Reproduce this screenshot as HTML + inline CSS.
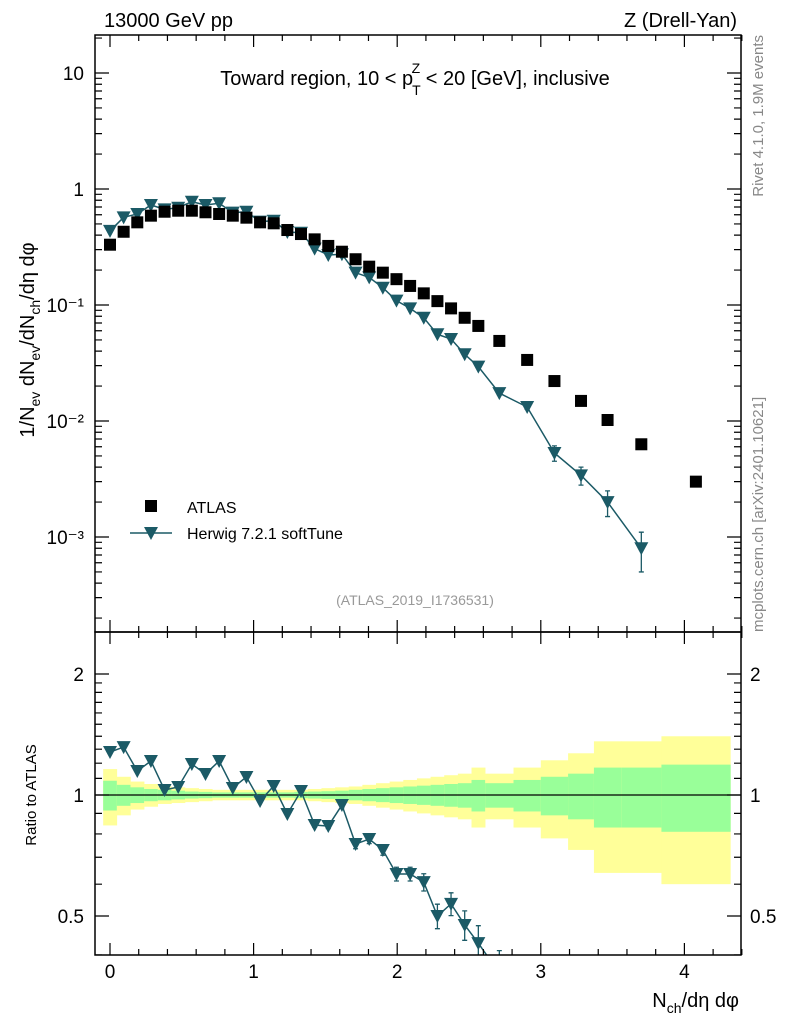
<!DOCTYPE html>
<html><head><meta charset="utf-8"><style>
body{margin:0;background:#fff;}
svg{display:block;font-family:"Liberation Sans",sans-serif;}
</style></head><body>
<svg id="c" width="786" height="1024" viewBox="0 0 786 1024" xmlns="http://www.w3.org/2000/svg">
<text x="104" y="27" font-size="20">13000 GeV pp</text>
<text x="737" y="27" font-size="20" text-anchor="end">Z (Drell-Yan)</text>
<text x="415" y="85" font-size="20" text-anchor="middle">Toward region, 10 &lt; p<tspan font-size="14" dy="10" dx="-1">T</tspan><tspan font-size="14" dy="-22" dx="-9">Z</tspan><tspan dy="12"> &lt; 20 [GeV], inclusive</tspan></text>
<text transform="translate(763,35) rotate(-90)" font-size="15" fill="#888" text-anchor="end">Rivet 4.1.0, 1.9M events</text>
<text transform="translate(763,632) rotate(-90)" font-size="15" fill="#888">mcplots.cern.ch [arXiv:2401.10621]</text>
<text x="415" y="605" font-size="14" fill="#999" text-anchor="middle">(ATLAS_2019_I1736531)</text>
<text transform="translate(34,340) rotate(-90)" font-size="20" text-anchor="middle">1/N<tspan font-size="14" dy="6">ev</tspan><tspan dy="-6"> dN</tspan><tspan font-size="14" dy="6">ev</tspan><tspan dy="-6">/dN</tspan><tspan font-size="14" dy="6">ch</tspan><tspan dy="-6">/dη dφ</tspan></text>
<text transform="translate(36,795) rotate(-90)" font-size="15" text-anchor="middle">Ratio to ATLAS</text>
<text x="739" y="1007" font-size="20" text-anchor="end">N<tspan font-size="14" dy="6">ch</tspan><tspan dy="-6">/dη dφ</tspan></text>
<g id="ratioBands"></g><g id="marks"></g><g id="axes"></g>
<g>
<rect x="145" y="500" width="12" height="12" fill="#000"/>
<text x="187" y="513" font-size="16">ATLAS</text>
<line x1="130" y1="533" x2="172" y2="533" stroke="#1b5a66" stroke-width="1.5"/>
<path d="M144,527 L158,527 L151,540 Z" fill="#1b5a66"/>
<text x="187" y="539" font-size="16">Herwig 7.2.1 softTune</text>
</g>
</svg>
<script>
const binEdges=[-0.0475,0.0475,0.1425,0.2375,0.3325,0.4275,0.5225,0.6175,0.7125,0.8075,0.9025,0.9975,1.0925,1.1875,1.2825,1.3775,1.4725,1.5675,1.6625,1.7575,1.8525,1.9475,2.0425,2.1375,2.2325,2.3275,2.4225,2.5175,2.6125,2.81,3.0,3.19,3.37,3.56,3.84,4.32];
const atlasVals=[0.331,0.428,0.516,0.589,0.637,0.650,0.650,0.630,0.609,0.589,0.566,0.516,0.506,0.443,0.409,0.368,0.323,0.288,0.248,0.214,0.190,0.167,0.146,0.126,0.108,0.0935,0.0776,0.066,0.049,0.0336,0.0221,0.0149,0.0102,0.0063,0.0030];
const herwigVals=[0.435,0.570,0.609,0.728,0.668,0.690,0.777,0.728,0.753,0.625,0.637,0.523,0.533,0.426,0.420,0.306,0.270,0.274,0.190,0.173,0.141,0.109,0.0935,0.0776,0.0559,0.0509,0.0376,0.0294,0.0174,0.0132,0.0053,0.0034,0.0020,0.00080];
const herwigErr=[0,0,0,0,0,0,0,0,0,0,0,0,0,0,0,0,0,0,0,0,0,0,0,0,0,0,0,0,0.0006,0.0006,0.0008,0.0006,0.0005,0.0003];
const ratioVals=[1.279,1.316,1.147,1.215,1.029,1.047,1.194,1.128,1.215,1.041,1.109,0.966,1.053,0.897,1.023,0.842,0.837,0.944,0.755,0.777,0.730,0.636,0.636,0.607,0.50,0.536,0.475,0.428,0.36];
const ratioErr=[0,0,0,0,0,0,0,0,0,0,0,0,0,0,0,0.01,0.012,0.015,0.02,0.02,0.022,0.025,0.025,0.03,0.035,0.035,0.04,0.045,0.05];
const yellowErr=[0.16,0.11,0.08,0.065,0.05,0.045,0.04,0.035,0.03,0.03,0.03,0.03,0.03,0.03,0.03,0.035,0.04,0.045,0.05,0.06,0.07,0.08,0.09,0.10,0.11,0.12,0.13,0.17,0.13,0.17,0.22,0.27,0.36,0.36,0.40];
const greenErr=[0.085,0.06,0.045,0.035,0.03,0.025,0.02,0.018,0.015,0.015,0.015,0.015,0.015,0.015,0.018,0.02,0.022,0.025,0.03,0.035,0.04,0.045,0.05,0.055,0.06,0.065,0.07,0.09,0.07,0.09,0.11,0.13,0.17,0.17,0.19];
const xTicks=[0,1,2,3,4];
const yTickLabels=["10","1","10⁻¹","10⁻²","10⁻³"];
const yTickVals=[10,1,0.1,0.01,0.001];
const rTicks=[0.5,1,2];

const NS="http://www.w3.org/2000/svg";
const L=95,R=741,T=35,B=632,RT=632,RB=955;
const X=v=>110+v*143.6;
const Y=v=>189-116*Math.log10(v);
const RY=v=>795-121*Math.log2(v);
function mk(p,tag,a){const e=document.createElementNS(NS,tag);for(const k in a)e.setAttribute(k,a[k]);p.appendChild(e);return e;}
const bands=document.getElementById('ratioBands'),marks=document.getElementById('marks'),axes=document.getElementById('axes');
const centers=binEdges.slice(0,-1).map((e,i)=>(e+binEdges[i+1])/2);

for(let i=0;i<yellowErr.length;i++){
  const x1=X(binEdges[i]),x2=X(binEdges[i+1]);
  let r=mk(bands,'rect',{x:x1,y:RY(1+yellowErr[i]),width:x2-x1+0.3,height:RY(1-yellowErr[i])-RY(1+yellowErr[i]),fill:'#ffff99'});
  
  
  let g=mk(bands,'rect',{x:x1,y:RY(1+greenErr[i]),width:x2-x1+0.3,height:RY(1-greenErr[i])-RY(1+greenErr[i]),fill:'#99ff99'});
  
  
}
let ref=mk(bands,'line',{x1:L,x2:R,y1:RY(1),y2:RY(1),stroke:'#000','stroke-width':1.2});



const col='#1b5a66';
function errBar(g,x,a,b,name){
  let e=mk(g,'path',{d:`M${x},${a} L${x},${b} M${x-2.5},${a} L${x+2.5},${a} M${x-2.5},${b} L${x+2.5},${b}`,stroke:col,'stroke-width':1.3,fill:'none'});
  
  
}
let d=herwigVals.map((v,i)=>(i?'L':'M')+X(centers[i])+','+Y(v)).join(' ');
let hl=mk(marks,'path',{d:d,fill:'none',stroke:col,'stroke-width':1.5});


herwigVals.forEach((v,i)=>{
  const x=X(centers[i]),y=Y(v);
  if(herwigErr[i]>0)errBar(marks,x,Y(v+herwigErr[i]),Y(Math.max(v-herwigErr[i],v*0.3)),'herwig-error-bar');
  let p=mk(marks,'path',{d:`M${x-7},${y-6} L${x+7},${y-6} L${x},${y+7} Z`,fill:col});
  
  
});
atlasVals.forEach((v,i)=>{
  const x=X(centers[i]),y=Y(v);
  let r=mk(marks,'rect',{x:x-6,y:y-6,width:12,height:12,fill:'#000'});
  
  
});
const clip=mk(marks,'clipPath',{id:'rc'});mk(clip,'rect',{x:L,y:RT,width:R-L,height:RB-RT});
const rg=mk(marks,'g',{'clip-path':'url(#rc)'});
d=ratioVals.map((v,i)=>(i?'L':'M')+X(centers[i])+','+RY(v)).join(' ');
let rl=mk(rg,'path',{d:d,fill:'none',stroke:col,'stroke-width':1.5});


ratioVals.forEach((v,i)=>{
  const x=X(centers[i]),y=RY(v);
  if(ratioErr[i]>0)errBar(rg,x,RY(v+ratioErr[i]),RY(v-ratioErr[i]),'ratio-error-bar');
  let p=mk(rg,'path',{d:`M${x-7},${y-6} L${x+7},${y-6} L${x},${y+7} Z`,fill:col});
  
  
});
let f1=mk(axes,'rect',{x:L,y:T,width:R-L,height:B-T,fill:'none',stroke:'#000','stroke-width':1.5});


let f2=mk(axes,'rect',{x:L,y:RT,width:R-L,height:RB-RT,fill:'none',stroke:'#000','stroke-width':1.5});


let tk='';
for(let k=0;k<=22;k++){const v=k*0.2,x=X(v),maj=k%5==0,l=maj?12:6;
  for(const [t,b] of [[T,B],[RT,RB]]){tk+=`M${x},${t} L${x},${t+l} M${x},${b} L${x},${b-l} `;}}
for(let e=-4;e<=1;e++)for(let m=1;m<=9;m++){const v=m*Math.pow(10,e),y=Y(v);if(y<T||y>B)continue;const l=m==1?14:7;
  tk+=`M${L},${y} L${L+l},${y} M${R},${y} L${R-l},${y} `;}
[0.4,0.5,0.6,0.7,0.8,0.9,1,1.1,1.2,1.3,1.4,1.5,1.6,1.7,1.8,1.9,2].forEach(v=>{const y=RY(v);if(y<RT||y>RB)return;const l=rTicks.includes(v)?14:7;
  tk+=`M${L},${y} L${L+l},${y} M${R},${y} L${R-l},${y} `;});
let tp=mk(axes,'path',{d:tk,stroke:'#000','stroke-width':1.2,fill:'none'});


xTicks.forEach(v=>{let t=mk(axes,'text',{x:X(v),y:978,'font-size':19,'text-anchor':'middle'});t.textContent=v;
  
  });
yTickVals.forEach((v,i)=>{let t=mk(axes,'text',{x:84,y:Y(v)+7,'font-size':19,'text-anchor':'end'});t.textContent=yTickLabels[i];
  
  });
rTicks.forEach(v=>{for(const [x,a] of [[84,'end'],[750,'start']]){let t=mk(axes,'text',{x:x,y:RY(v)+7,'font-size':19,'text-anchor':a});t.textContent=String(v);
  
  }});
</script>
</body></html>
